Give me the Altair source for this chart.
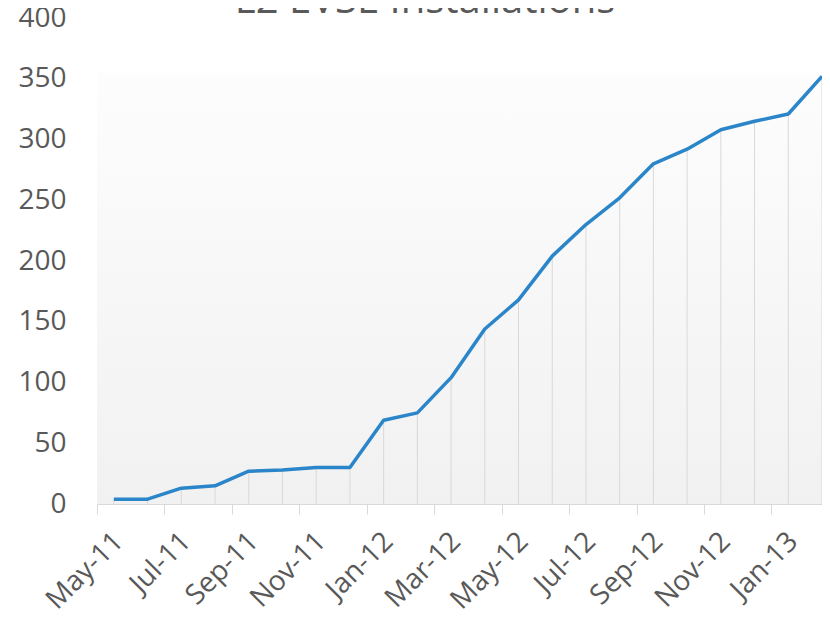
import json
import altair as alt
import pandas as pd

title_text = "L2 EVSE Installations"
months = ["May-11", "Jun-11", "Jul-11", "Aug-11", "Sep-11", "Oct-11", "Nov-11", "Dec-11",
          "Jan-12", "Feb-12", "Mar-12", "Apr-12", "May-12", "Jun-12", "Jul-12", "Aug-12",
          "Sep-12", "Oct-12", "Nov-12", "Dec-12", "Jan-13", "Feb-13"]
installs = [4, 4, 13, 15, 27, 28, 30, 30, 69, 75, 104, 144, 168, 204, 230, 252,
            280, 292, 308, 315, 321, 352]
y_ticks = [0, 50, 100, 150, 200, 250, 300, 350, 400]

df = pd.DataFrame({"idx": list(range(len(months))), "month": months, "value": installs})

W, H = 725, 486
n = len(months)
band = W / (n - 0.5)
tick_vals = [i - 0.5 for i in range(0, n - 1, 2)]
label_expr = json.dumps(months) + "[datum.value + 0.5]"

GRAY_TXT = "#595959"
GRID = "#d9d9d9"
FONT = "Open Sans"

xscale = alt.Scale(domain=[-0.5, n - 1], nice=False, zero=False)
yscale = alt.Scale(domain=[0, 400], nice=False)

x_axis = alt.Axis(values=tick_vals, labelExpr=label_expr, labelOffset=band / 2 - 5,
                  labelAngle=-45, labelAlign="right", labelBaseline="top",
                  labelPadding=13, labelFontSize=28, labelColor=GRAY_TXT, labelFont=FONT,
                  labelOverlap=False, labelFlush=False, labelBound=False,
                  tickSize=10, tickColor=GRID, domainColor=GRID, grid=False, title=None)
y_axis = alt.Axis(values=y_ticks, labelFontSize=28, labelColor=GRAY_TXT, labelFont=FONT,
                  labelPadding=31, ticks=False, domain=False, grid=False, title=None)

grad = alt.LinearGradient(
    gradient="linear",
    stops=[alt.GradientStop(color="#fdfdfd", offset=0),
           alt.GradientStop(color="#f1f1f1", offset=1)],
    x1=0, x2=0, y1=0, y2=1,
)

bg = alt.Chart(pd.DataFrame({"x0": [-0.5], "x1": [n - 1], "y0": [0], "y1": [355]})).mark_rect(
    fill=grad, strokeWidth=0
).encode(
    x=alt.X("x0:Q", scale=xscale, axis=x_axis),
    x2="x1:Q",
    y=alt.Y("y1:Q", scale=yscale, axis=y_axis),
    y2="y0:Q",
)

base = alt.Chart(df)

drops = base.mark_rule(color=GRID, strokeWidth=1).encode(
    x=alt.X("idx:Q", scale=xscale),
    y=alt.Y("value:Q", scale=yscale),
    y2=alt.datum(0),
)

line = base.mark_line(color="#2b85c9", strokeWidth=3.5, strokeJoin="round").encode(
    x=alt.X("idx:Q", scale=xscale),
    y=alt.Y("value:Q", scale=yscale),
)

title = alt.Chart(pd.DataFrame({"t": [title_text]})).mark_text(
    font=FONT, fontSize=40, color=GRAY_TXT, align="center", baseline="alphabetic"
).encode(x=alt.value(328), y=alt.value(-5), text="t:N")

chart = alt.layer(bg, drops, line, title).properties(
    width=W, height=H,
    autosize=alt.AutoSizeParams(type="none"),
    padding={"left": 89, "top": 10, "right": 0, "bottom": 116},
).configure(font=FONT).configure_view(stroke=None)

chart.save("out.html", embed_options={"renderer": "svg", "actions": False})
